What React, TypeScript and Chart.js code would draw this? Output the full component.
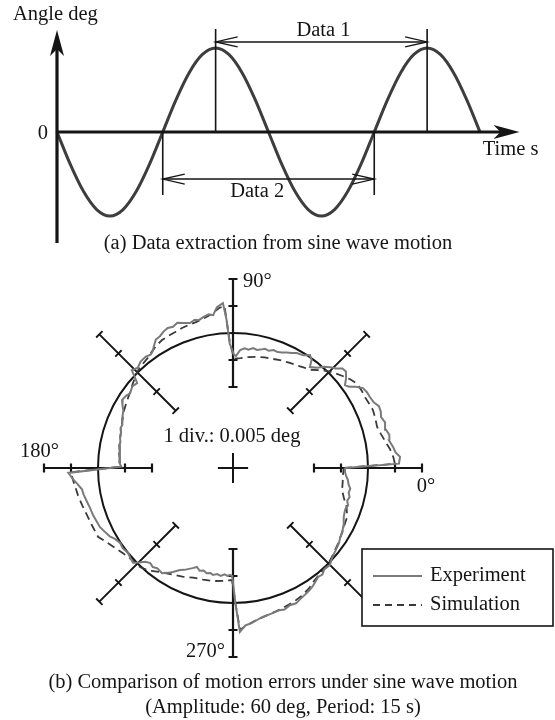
import React, { useEffect, useRef } from "react";
import { Chart, registerables } from "chart.js";

Chart.register(...registerables);

// ---------- (a) sine wave motion ----------
// time (s) and angle (deg) read from the schematic sine wave (amplitude 60 deg, period 15 s)
const sineTime = [
  0, 0.9375, 1.875, 2.8125, 3.75, 4.6875, 5.625, 6.5625, 7.5, 8.4375, 9.375,
  10.3125, 11.25, 12.1875, 13.125, 14.0625, 15, 15.9375, 16.875, 17.8125, 18.75,
  19.6875, 20.625, 21.5625, 22.5, 23.4375, 24.375, 25.3125, 26.25, 27.1875,
  28.125, 29.0625, 30,
];
const sineAngle = [
  0, -23, -42.4, -55.4, -60, -55.4, -42.4, -23, 0, 23, 42.4,
  55.4, 60, 55.4, 42.4, 23, 0, -23, -42.4, -55.4, -60,
  -55.4, -42.4, -23, 0, 23, 42.4, 55.4, 60, 55.4,
  42.4, 23, 0,
];
const data1Times = [11.25, 26.25]; // peaks used for Data 1
const data2Times = [7.5, 22.5]; // zero crossings used for Data 2

// ---------- (b) motion errors (polar) ----------
// angle (deg) and radial error in divisions (1 div = 0.005 deg)
const nominalRadiusDiv = 5;
const expAngle = [
  0, 1.5, 3.8, 5.5, 7.5, 10, 12, 14, 16.7, 19,
  21, 23, 25, 27.4, 29.5, 31.6, 33.5, 35, 36.5, 38.5,
  40.5, 42.3, 44, 46, 48, 50, 52.7, 54, 55.7, 58,
  61, 63, 65, 67, 69, 71, 73, 75, 77, 78.5,
  80.5, 82.5, 84.5, 86.5, 88.5, 89.5, 91.5, 92.5, 93.5, 95.7,
  97.4, 99, 101, 103, 104.5, 106.5, 108.5, 111, 113, 115,
  117, 119, 121, 123, 124.5, 126, 128, 131, 133.5, 136,
  137, 138.5, 141, 144, 146, 148.5, 150.5, 152.5, 154.5, 156.6,
  158.5, 160.5, 162.5, 164.7, 167, 169, 171, 173, 175, 177,
  179.3, 181.7, 184, 186, 188, 190, 193, 195.5, 198.5, 201,
  204, 206.5, 209, 211, 213.6, 216, 219, 221, 223.5, 225,
  227, 229, 231, 233, 236, 238, 240, 242.5, 244.5, 246,
  248, 250, 252, 254, 256, 258, 259.4, 261.5, 263.5, 265.5,
  267, 268.4, 269.6, 271, 272.4, 274.5, 277, 279, 281, 283,
  285.5, 288, 290, 292.5, 295, 297, 299.5, 302, 304, 306,
  308, 310, 312, 315, 317, 319, 321, 323, 325, 327,
  329.5, 332, 334, 336, 338, 340, 342, 344, 346, 348,
  350, 352, 354, 356, 358, 360,
];
const expErrDiv = [
  -0.85, 1.15, 1.2, 1.05, 0.98, 0.87, 0.92, 0.84, 0.88, 0.8,
  0.86, 0.87, 0.75, 0.71, 0.7, 0.65, 0.45, 0.25, 0.16, 0.35,
  0.5, 0.48, 0.3, 0.19, 0.05, -0.15, -0.3, -0.05, 0.06, -0.08,
  -0.13, -0.22, -0.28, -0.35, -0.4, -0.38, -0.46, -0.43, -0.5, -0.54,
  -0.5, -0.58, -0.55, -0.62, -0.85, -0.8, -0.4, 0.5, 1.12, 0.99,
  0.71, 0.76, 0.7, 0.62, 0.67, 0.6, 0.66, 0.76, 0.68, 0.72,
  0.67, 0.58, 0.55, 0.38, 0.25, 0.19, 0.24, 0.22, 0.12, 0.21,
  0.0, -0.26, -0.2, -0.29, -0.22, -0.18, -0.3, -0.42, -0.47, -0.52,
  -0.6, -0.58, -0.65, -0.66, -0.72, -0.7, -0.76, -0.74, -0.8, -0.78,
  -0.86, 1.1, 0.94, 0.78, 0.65, 0.62, 0.55, 0.5, 0.47, 0.43,
  0.39, 0.3, 0.22, 0.1, 0.02, 0.05, 0.0, 0.05, 0.1, -0.05,
  -0.25, -0.33, -0.28, -0.35, -0.3, -0.42, -0.55, -0.74, -0.82, -0.9,
  -1.0, -1.1, -1.0, -1.05, -0.98, -1.02, -0.97, -1.03, -0.98, -1.05,
  -1.0, -1.04, -1.0, 0.0, 1.08, 0.85, 0.78, 0.7, 0.63, 0.6,
  0.57, 0.54, 0.58, 0.5, 0.53, 0.46, 0.4, 0.34, 0.28, 0.2,
  0.12, 0.15, 0.05, 0.08, -0.02, -0.08, -0.12, -0.16, -0.2, -0.27,
  -0.3, -0.38, -0.45, -0.5, -0.55, -0.57, -0.52, -0.6, -0.55, -0.62,
  -0.59, -0.68, -0.72, -0.8, -0.85, -0.85,
];
const simAngle = [
  0, 1.5, 4, 7, 10, 13, 16, 19, 22.5, 25,
  28, 31, 34, 37, 40, 43, 46, 49, 52, 55,
  58, 62, 66.5, 70, 74, 77.8, 82, 86, 89.5, 91.5,
  93, 95, 98, 101, 104, 107, 110, 113, 116, 119,
  122, 125, 128, 131, 134, 137, 140, 143, 146, 149,
  153, 157, 161, 165, 169, 173, 177, 179.3, 181.5, 184,
  187, 190, 194, 198, 202, 207, 210, 214, 218, 222,
  227, 231, 235, 240, 245, 250, 255, 260, 265, 269.5,
  271, 272.5, 275, 278, 282, 286, 290, 294, 298, 302,
  306, 310, 315, 320, 325, 330, 336.7, 341, 345, 348.6,
  352, 356, 360,
];
const simErrDiv = [
  -0.9, 1.0, 0.95, 0.85, 0.72, 0.62, 0.55, 0.58, 0.61, 0.58,
  0.55, 0.56, 0.56, 0.45, 0.3, 0.15, 0.0, -0.2, -0.38, -0.45,
  -0.52, -0.58, -0.64, -0.7, -0.74, -0.79, -0.85, -0.92, -0.95, -0.3,
  1.0, 0.95, 0.75, 0.65, 0.58, 0.55, 0.52, 0.47, 0.45, 0.42,
  0.35, 0.25, 0.15, 0.1, 0.05, -0.05, -0.15, -0.25, -0.32, -0.38,
  -0.45, -0.55, -0.62, -0.68, -0.72, -0.76, -0.8, -0.84, 1.0, 0.95,
  0.88, 0.83, 0.75, 0.68, 0.64, 0.61, 0.45, 0.28, 0.15, 0.06,
  0.03, -0.1, -0.3, -0.45, -0.56, -0.68, -0.72, -0.75, -0.8, -0.85,
  0.0, 1.0, 0.85, 0.72, 0.62, 0.55, 0.5, 0.45, 0.38, 0.28,
  0.14, 0.06, 0.0, -0.12, -0.22, -0.32, -0.4, -0.55, -0.75, -0.88,
  -0.9, -0.92, -0.9,
];
const polarAxisAngles = [0, 45, 90, 135, 180, 225, 270, 315];
const polarAxisTicksDiv = [3, 4, 6, 7];

const SERIF = '"Liberation Serif", "Times New Roman", serif';
const FONT = `20.5px ${SERIF}`;
const INK = "#151515";

function toPolarPoints(angles: number[], errs: number[]) {
  return angles.map((a, i) => {
    const r = nominalRadiusDiv + errs[i];
    const t = (a * Math.PI) / 180;
    return { x: r * Math.cos(t), y: r * Math.sin(t) };
  });
}

function arrowFilled(ctx: CanvasRenderingContext2D, tx: number, ty: number, dx: number, dy: number) {
  const len = 26, half = 7, notch = 19;
  const bx = tx - dx * len, by = ty - dy * len;
  const nx = -dy, ny = dx;
  ctx.beginPath();
  ctx.moveTo(tx, ty);
  ctx.lineTo(bx + nx * half, by + ny * half);
  ctx.lineTo(tx - dx * notch, ty - dy * notch);
  ctx.lineTo(bx - nx * half, by - ny * half);
  ctx.closePath();
  ctx.fill();
}

function arrowOpen(ctx: CanvasRenderingContext2D, tx: number, ty: number, dir: number) {
  ctx.beginPath();
  ctx.moveTo(tx - dir * 22, ty - 5);
  ctx.lineTo(tx, ty);
  ctx.lineTo(tx - dir * 22, ty + 5);
  ctx.stroke();
}

function SineChart() {
  const ref = useRef<HTMLCanvasElement>(null);
  useEffect(() => {
    const canvas = ref.current!;
    const annot = {
      id: "sineAnnot",
      afterDatasetsDraw(chart: any) {
        const ctx: CanvasRenderingContext2D = chart.ctx;
        const X = (v: number) => chart.scales.x.getPixelForValue(v);
        const Y = (v: number) => chart.scales.y.getPixelForValue(v);
        ctx.save();
        ctx.strokeStyle = INK;
        ctx.fillStyle = INK;
        ctx.lineWidth = 3.2;
        ctx.beginPath();
        ctx.moveTo(X(0), Y(-79.3));
        ctx.lineTo(X(0), Y(72.9) + 18);
        ctx.moveTo(X(0), Y(0));
        ctx.lineTo(X(32.8) - 18, Y(0));
        ctx.stroke();
        arrowFilled(ctx, X(0), Y(72.9), 0, -1);
        arrowFilled(ctx, X(32.8), Y(0), 1, 0);
        ctx.lineWidth = 1.6;
        ctx.beginPath();
        data1Times.forEach((t) => {
          ctx.moveTo(X(t), Y(0));
          ctx.lineTo(X(t), Y(73.6));
        });
        data2Times.forEach((t) => {
          ctx.moveTo(X(t), Y(0));
          ctx.lineTo(X(t), Y(-45));
        });
        ctx.moveTo(X(data1Times[0]), Y(64.3));
        ctx.lineTo(X(data1Times[1]), Y(64.3));
        ctx.moveTo(X(data2Times[0]), Y(-33.6));
        ctx.lineTo(X(data2Times[1]), Y(-33.6));
        ctx.stroke();
        ctx.lineWidth = 1.3;
        arrowOpen(ctx, X(data1Times[0]), Y(64.3), -1);
        arrowOpen(ctx, X(data1Times[1]), Y(64.3), 1);
        arrowOpen(ctx, X(data2Times[0]), Y(-33.6), -1);
        arrowOpen(ctx, X(data2Times[1]), Y(-33.6), 1);
        ctx.font = FONT;
        ctx.textBaseline = "middle";
        ctx.textAlign = "left";
        ctx.fillText("Angle deg", X(-3.12), Y(83.6));
        ctx.fillText("Time s", X(30.2), Y(-12.9));
        ctx.textAlign = "right";
        ctx.fillText("0", X(-0.64), Y(-1.4));
        ctx.textAlign = "center";
        ctx.fillText("Data 1", X(18.9), Y(72.2));
        ctx.fillText("Data 2", X(14.2), Y(-42.9));
        ctx.fillText("(a) Data extraction from sine wave motion", X(15.67), Y(-80));
        ctx.restore();
      },
    };
    const chart = new Chart(canvas, {
      type: "line",
      data: {
        datasets: [
          {
            data: sineTime.map((t, i) => ({ x: t, y: sineAngle[i] })),
            borderColor: "#3d3d3d",
            borderWidth: 3,
            pointRadius: 0,
            cubicInterpolationMode: "monotone",
            fill: false,
          },
        ],
      },
      options: {
        animation: false,
        responsive: false,
        devicePixelRatio: 1,
        events: [],
        layout: { padding: 0 },
        plugins: { legend: { display: false }, tooltip: { enabled: false } },
        scales: {
          x: { type: "linear", min: -4.0426, max: 35.3191, display: false },
          y: { type: "linear", min: -87.857, max: 94.286, display: false },
        },
      },
      plugins: [annot],
    } as any);
    return () => chart.destroy();
  }, []);
  return <canvas ref={ref} width={555} height={255} style={{ display: "block", width: 555, height: 255 }} />;
}

function PolarChart() {
  const ref = useRef<HTMLCanvasElement>(null);
  useEffect(() => {
    const canvas = ref.current!;
    const annot = {
      id: "polarAnnot",
      beforeDatasetsDraw(chart: any) {
        const ctx: CanvasRenderingContext2D = chart.ctx;
        const X = (v: number) => chart.scales.x.getPixelForValue(v);
        const Y = (v: number) => chart.scales.y.getPixelForValue(v);
        const unit = X(1) - X(0);
        ctx.save();
        ctx.strokeStyle = INK;
        ctx.lineWidth = 2;
        ctx.beginPath();
        ctx.arc(X(0), Y(0), nominalRadiusDiv * unit, 0, Math.PI * 2);
        ctx.stroke();
        polarAxisAngles.forEach((deg) => {
          const t = (deg * Math.PI) / 180;
          const c = Math.cos(t), s = Math.sin(t);
          const r0 = polarAxisTicksDiv[0], r1 = polarAxisTicksDiv[polarAxisTicksDiv.length - 1];
          ctx.lineWidth = deg % 90 === 0 ? 2.2 : 1.9;
          ctx.beginPath();
          ctx.moveTo(X(r0 * c), Y(r0 * s));
          ctx.lineTo(X(r1 * c), Y(r1 * s));
          polarAxisTicksDiv.forEach((r) => {
            const px = X(r * c), py = Y(r * s);
            const nx = s, ny = c;
            ctx.moveTo(px - nx * 4.5, py - ny * 4.5);
            ctx.lineTo(px + nx * 4.5, py + ny * 4.5);
          });
          ctx.stroke();
        });
        ctx.lineWidth = 2;
        ctx.beginPath();
        ctx.moveTo(X(-0.56), Y(0));
        ctx.lineTo(X(0.56), Y(0));
        ctx.moveTo(X(0), Y(-0.56));
        ctx.lineTo(X(0), Y(0.56));
        ctx.stroke();
        ctx.restore();
      },
      afterDatasetsDraw(chart: any) {
        const ctx: CanvasRenderingContext2D = chart.ctx;
        const X = (v: number) => chart.scales.x.getPixelForValue(v);
        const Y = (v: number) => chart.scales.y.getPixelForValue(v);
        ctx.save();
        ctx.fillStyle = INK;
        ctx.font = FONT;
        ctx.textBaseline = "middle";
        ctx.textAlign = "left";
        ctx.fillText("90°", X(0.37), Y(6.89));
        ctx.fillText("180°", X(-7.89), Y(0.59));
        ctx.fillText("0°", X(6.81), Y(-0.7));
        ctx.textAlign = "right";
        ctx.fillText("270°", X(-0.3), Y(-6.81));
        ctx.textAlign = "center";
        ctx.fillText("1 div.: 0.005 deg", X(-0.04), Y(1.15));
        ctx.fillText("(b) Comparison of motion errors under sine wave motion", X(1.85), Y(-7.96));
        ctx.fillText("(Amplitude: 60 deg, Period: 15 s)", X(1.85), Y(-8.89));
        const lx = 362, ly = 294, lw = 191, lh = 77;
        ctx.fillStyle = "#ffffff";
        ctx.fillRect(lx, ly, lw, lh);
        ctx.strokeStyle = INK;
        ctx.lineWidth = 1.6;
        ctx.strokeRect(lx, ly, lw, lh);
        ctx.lineWidth = 2;
        ctx.strokeStyle = "#7a7a7a";
        ctx.beginPath();
        ctx.moveTo(lx + 11, ly + 27);
        ctx.lineTo(lx + 60, ly + 27);
        ctx.stroke();
        ctx.strokeStyle = "#3a3a3a";
        ctx.setLineDash([7, 5]);
        ctx.beginPath();
        ctx.moveTo(lx + 11, ly + 56);
        ctx.lineTo(lx + 60, ly + 56);
        ctx.stroke();
        ctx.setLineDash([]);
        ctx.fillStyle = INK;
        ctx.textAlign = "left";
        ctx.fillText("Experiment", lx + 68, ly + 27);
        ctx.fillText("Simulation", lx + 68, ly + 56);
        ctx.restore();
      },
    };
    const chart = new Chart(canvas, {
      type: "scatter",
      data: {
        datasets: [
          {
            label: "Experiment",
            data: toPolarPoints(expAngle, expErrDiv),
            showLine: true,
            borderColor: "#7a7a7a",
            borderWidth: 2,
            pointRadius: 0,
            tension: 0,
            order: 0,
          },
          {
            label: "Simulation",
            data: toPolarPoints(simAngle, simErrDiv),
            showLine: true,
            borderColor: "#3a3a3a",
            borderWidth: 1.8,
            borderDash: [8, 5],
            pointRadius: 0,
            tension: 0,
            order: 1,
          },
        ],
      },
      options: {
        animation: false,
        responsive: false,
        devicePixelRatio: 1,
        events: [],
        layout: { padding: 0 },
        plugins: { legend: { display: false }, tooltip: { enabled: false } },
        scales: {
          x: { type: "linear", min: -8.6296, max: 11.9259, display: false },
          y: { type: "linear", min: -9.3333, max: 7.8889, display: false },
        },
      },
      plugins: [annot],
    } as any);
    return () => chart.destroy();
  }, []);
  return <canvas ref={ref} width={555} height={465} style={{ display: "block", width: 555, height: 465 }} />;
}

export default function App() {
  return (
    <div style={{ position: "absolute", left: 0, top: 0, width: 555, height: 720, background: "#fff" }}>
      <SineChart />
      <PolarChart />
    </div>
  );
}
